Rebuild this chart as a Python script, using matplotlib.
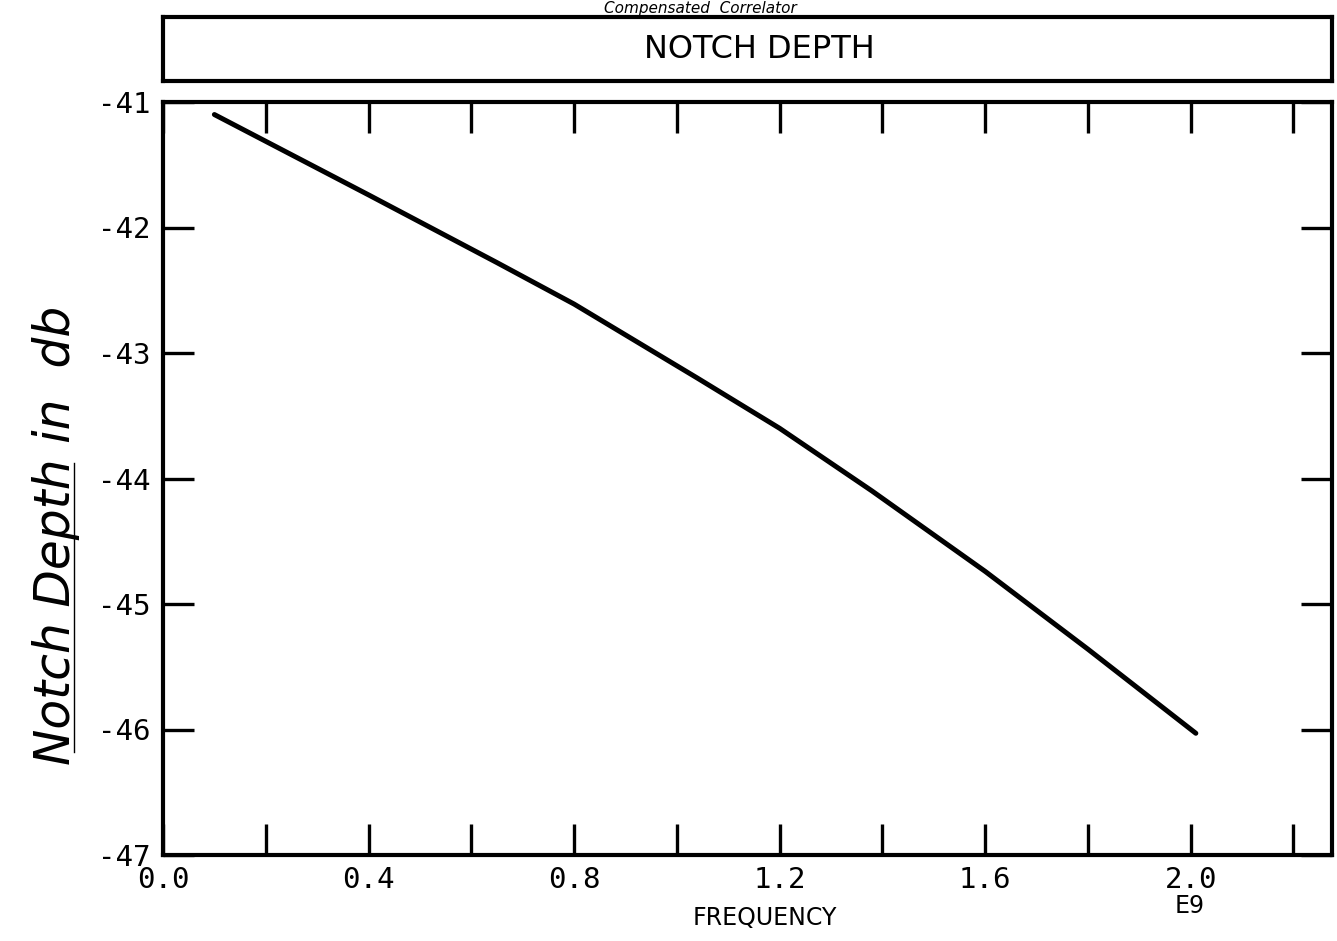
import matplotlib
matplotlib.use('Agg')
import matplotlib.pyplot as plt
from matplotlib.ticker import MultipleLocator, FixedLocator
from matplotlib.lines import Line2D

# data (frequency in units of 1e9)
freq = [0.10, 0.40, 0.65, 0.80, 1.04, 1.20, 1.38, 1.60, 1.80, 2.01]
depth = [-41.10, -41.74, -42.28, -42.61, -43.20, -43.60, -44.10, -44.74, -45.36, -46.03]

xticks_lab = [0.0, 0.4, 0.8, 1.2, 1.6, 2.0]
yticks = [-47, -46, -45, -44, -43, -42, -41]

plt.rcParams['axes.unicode_minus'] = False

W, H = 1337, 941
fig = plt.figure(figsize=(W/100, H/100), dpi=100)

L, R = 163/W, 1332/W
B, T = 1-855/H, 1-102/H
ax = fig.add_axes([L, B, R-L, T-B])

ax.plot(freq, depth, 'k-', lw=3.6, solid_capstyle='round')
ax.set_xlim(0, 2.275)
ax.set_ylim(-47, -41)

ax.xaxis.set_major_locator(FixedLocator(xticks_lab))
ax.xaxis.set_minor_locator(MultipleLocator(0.2))
ax.yaxis.set_major_locator(FixedLocator(yticks))
ax.set_xticklabels(['%.1f' % v for v in xticks_lab])
ax.set_yticklabels(['%d' % v for v in yticks])

for sp in ax.spines.values():
    sp.set_linewidth(3)
ax.tick_params(which='both', direction='in', top=True, right=True,
               length=22, width=2.4, color='k')
ax.tick_params(axis='x', which='major', pad=8)
ax.tick_params(axis='y', which='major', pad=9)
for lab in ax.get_xticklabels() + ax.get_yticklabels():
    lab.set_fontfamily('DejaVu Sans Mono')
    lab.set_fontsize(21)

# title box above the plot
tb, tt = 1-81/H, 1-17/H
axt = fig.add_axes([L, tb, R-L, tt-tb])
axt.set_xticks([])
axt.set_yticks([])
for sp in axt.spines.values():
    sp.set_linewidth(3)
axt.text(0.51, 0.5, 'NOTCH DEPTH', ha='center', va='center',
         fontsize=23, family='DejaVu Sans', transform=axt.transAxes)

# axis labels
fig.text(765/W, 1-918/H, 'FREQUENCY', ha='center', va='center',
         fontsize=17, family='DejaVu Sans')
fig.text(1190/W, 1-906/H, 'E9', ha='center', va='center',
         fontsize=17, family='DejaVu Sans')
fig.text(80/W, 1-535/H, 'Notch Depth in  db', rotation=90, ha='right',
         va='center', fontsize=35, style='italic', family='DejaVu Sans')
fig.add_artist(Line2D([74/W, 74/W], [1-463/H, 1-752/H], color='k', lw=1))

# handwritten caption at the top edge of the scan
fig.text(700/W, 1-8/H, 'Compensated  Correlator', ha='center', va='center',
         fontsize=11, style='italic', family='DejaVu Sans')

fig.savefig('out.png', dpi=100)
